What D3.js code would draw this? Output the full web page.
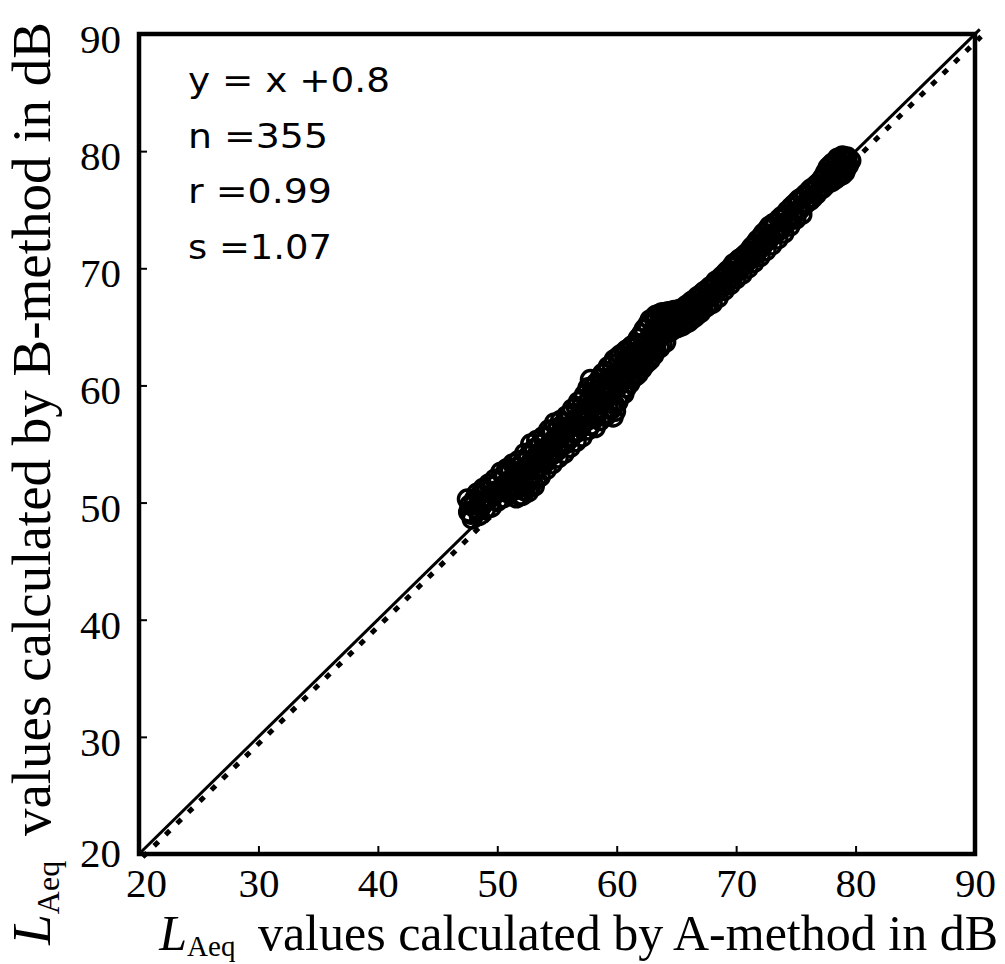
<!DOCTYPE html>
<html><head><meta charset="utf-8">
<script src="https://cdn.jsdelivr.net/npm/d3@7"></script>
<style>
html,body{margin:0;padding:0;background:#fff;}
svg{display:block;}
</style></head>
<body>
<svg id="chart" width="1005" height="964"></svg>
<script>
// ---------- data ----------
const xTicks = [20, 30, 40, 50, 60, 70, 80, 90];
const yTicks = [20, 30, 40, 50, 60, 70, 80, 90];
const statsLines = ["y = x +0.8", "n =355", "r =0.99", "s =1.07"];
const equalityLine = [[20, 20], [90.4, 90.4]];
const regressionLine = [[20.1, 19.95], [90.3, 90.0]];
const pointsA = [
[47.5,50.3],[47.6,49.2],[47.9,48.6],[48.0,49.8],
[48.3,50.8],[48.4,49.3],[48.5,48.9],
[48.8,51.2],[48.9,50.0],[49.0,49.4],
[49.3,51.6],[49.4,50.4],[49.5,49.6],
[49.8,52.0],[49.9,51.0],[50.0,50.1],
[50.3,52.6],[50.4,51.3],[50.5,50.4],
[50.8,52.9],[50.9,51.8],[51.0,50.8],
[51.3,53.3],[51.4,52.2],[51.5,51.1],[51.6,50.4],
[51.8,53.6],[51.9,52.6],[52.0,51.5],[52.1,50.6],
[52.3,54.2],[52.4,53.0],[52.5,51.8],[52.6,50.9],
[52.8,55.0],[52.9,53.6],[53.0,52.4],[53.1,51.4],
[53.3,55.3],[53.4,54.2],[53.5,53.0],[53.6,52.2],
[53.8,55.6],[53.9,54.6],[54.0,53.4],[54.1,52.8],
[54.3,56.2],[54.4,55.0],[54.5,54.0],[54.6,53.3],
[54.8,56.8],[54.9,55.6],[55.0,54.4],[55.1,53.8],
[55.3,57.0],[55.4,56.0],[55.5,55.0],[55.6,54.2],
[55.8,57.4],[55.9,56.4],[56.0,55.4],[56.1,54.7],
[56.3,58.0],[56.4,56.9],[56.5,56.0],[56.6,55.2],
[56.8,58.6],[56.9,57.4],[57.0,56.4],[57.1,55.6],
[57.3,59.2],[57.4,58.0],[57.5,57.0],[57.6,56.2],
[57.8,60.5],[57.9,59.4],[58.0,58.3],[58.1,57.2],[58.2,56.4],
[58.3,60.2],[58.4,59.0],[58.5,58.0],[58.6,57.0],
[58.8,61.0],[58.9,59.8],[59.0,58.6],[59.1,57.4],
[59.3,61.6],[59.4,60.5],[59.5,59.2],[59.6,58.0],[59.7,57.3],
[59.8,62.2],[59.9,61.0],[60.0,59.8],[60.1,58.6],
[60.3,62.6],[60.4,61.4],[60.5,60.4],[60.6,59.3],
[60.8,63.0],[60.9,62.0],[61.0,61.0],[61.1,60.2],
[61.3,63.4],[61.4,62.4],[61.5,61.5],[61.6,60.8],
[61.8,64.0],[61.9,63.0],[62.0,62.0],[62.1,61.4],
[62.3,64.8],[62.4,63.6],[62.5,62.6],[62.6,62.0],
[62.8,65.6],[62.9,64.4],[63.0,63.4],[63.1,62.6],
[63.3,66.0],[63.4,65.0],[63.5,64.0],[63.6,63.2],
[63.8,66.2],[63.9,65.4],[64.0,64.4],[64.1,63.7],
[64.3,66.3],[64.4,65.5],[64.5,64.6],
[64.8,66.4],[64.9,65.6],[65.0,64.9],
[65.3,66.5],[65.4,65.8],[65.5,65.1],
[65.8,66.8],[65.9,66.0],[66.0,65.4],
[66.3,67.2],[66.4,66.5],[66.5,65.8],
[66.8,67.6],[66.9,66.9],[67.0,66.2],
[67.3,68.0],[67.4,67.3],[67.5,66.7],
[67.8,68.4],[67.9,67.7],[68.0,67.0],
[68.3,68.9],[68.4,68.1],[68.5,67.5],
[68.8,69.3],[68.9,68.6],[69.0,68.1],
[69.3,69.8],[69.4,69.1],[69.5,68.6],
[69.8,70.4],[69.9,69.6],[70.0,69.1],
[70.3,70.8],[70.4,70.0],[70.5,69.5],
[70.8,71.2],[70.9,70.6],[71.0,70.0],
[71.3,71.8],[71.4,71.0],[71.5,70.5],
[71.8,72.4],[71.9,71.6],[72.0,71.0],
[72.3,73.0],[72.4,72.2],[72.5,71.5],
[72.8,73.6],[72.9,72.7],[73.0,72.0],
[73.3,73.9],[73.4,73.1],[73.5,72.5],
[73.8,74.4],[73.9,73.6],[74.0,73.0],
[74.3,74.9],[74.4,74.1],[74.5,73.6],
[74.8,75.4],[74.9,74.6],[75.0,74.2],
[75.3,75.9],[75.4,75.1],[75.5,74.6],
[75.8,76.3],[75.9,75.6],
[76.3,76.8],[76.4,76.0],
[76.8,77.2],[76.9,76.6],
[77.3,77.8],[77.4,77.0],
[77.7,78.6],[77.8,77.6],
[78.1,79.0],[78.2,78.2],[78.3,77.6],
[78.5,79.4],[78.6,78.6],[78.7,77.9],
[78.9,79.6],[79.0,78.8],[79.1,78.2],
[79.3,79.5],[79.4,78.8],[79.6,79.2]
];
const pointsB = [
[47.7,49.8],[47.8,49.0],[48.1,50.3],[48.2,49.5],
[48.6,50.7],[48.7,49.7],[49.1,51.0],[49.2,50.2],
[49.6,51.4],[49.7,50.6],[50.1,51.8],[50.2,51.0],
[50.6,52.4],[50.7,51.6],[50.7,50.9],
[51.1,52.8],[51.2,52.0],[51.2,51.2],
[51.6,53.0],[51.7,52.2],[51.7,51.2],[51.8,50.6],
[52.1,53.4],[52.2,52.6],[52.2,51.8],[52.3,51.0],
[52.6,54.0],[52.7,53.2],[52.7,52.2],[52.8,51.4],
[53.1,54.6],[53.2,53.8],[53.2,52.8],[53.3,52.0],
[53.6,55.0],[53.7,54.2],[53.7,53.4],
[54.1,55.6],[54.2,54.6],[54.2,53.8],
[54.6,56.2],[54.7,55.2],[54.7,54.2],
[55.1,56.4],[55.2,55.6],[55.2,54.8],
[55.6,56.8],[55.7,56.0],[55.7,55.0],
[56.1,57.6],[56.2,56.6],[56.2,55.6],
[56.6,58.2],[56.7,57.2],[56.7,56.0],
[57.1,58.8],[57.2,57.8],[57.2,56.8],
[57.6,59.8],[57.7,58.8],[57.7,57.6],[57.8,56.6],
[58.1,60.0],[58.2,59.4],[58.2,58.6],[58.3,57.6],
[58.6,60.6],[58.7,59.6],[58.7,58.4],[58.8,57.4],
[59.1,61.2],[59.2,60.2],[59.2,59.0],[59.3,58.0],
[59.6,61.8],[59.7,60.8],[59.7,59.6],[59.8,58.4],[59.9,57.8],
[60.1,62.4],[60.2,61.2],[60.2,60.2],[60.3,59.2],
[60.6,62.8],[60.7,61.8],[60.7,60.8],[60.8,59.8],
[61.1,63.2],[61.2,62.2],[61.2,61.4],[61.3,60.6],
[61.6,63.6],[61.7,62.8],[61.7,61.8],[61.8,61.0],
[62.1,64.4],[62.2,63.4],[62.2,62.4],[62.3,61.7],
[62.6,65.2],[62.7,64.0],[62.7,63.0],[62.8,62.2],
[63.1,65.8],[63.2,64.8],[63.2,63.8],[63.3,63.0],
[63.6,66.1],[63.7,65.2],[63.7,64.2],[63.8,63.5],
[64.1,66.2],[64.2,65.4],[64.2,64.5],
[64.6,66.3],[64.7,65.5],[64.7,64.8],
[65.1,66.4],[65.2,65.7],[65.2,65.0],
[65.6,66.6],[65.7,65.9],[65.7,65.3],
[66.1,67.0],[66.2,66.2],[66.2,65.6],
[66.6,67.4],[66.7,66.7],[66.7,66.0],
[67.1,67.8],[67.2,67.1],[67.2,66.5],
[67.6,68.2],[67.7,67.5],[67.7,66.9],
[68.1,68.6],[68.2,67.8],[68.6,69.1],[68.7,68.3],
[69.1,69.6],[69.2,68.8],[69.6,70.1],[69.7,69.3],
[70.1,70.6],[70.2,69.8],[70.6,71.0],[70.7,70.3],
[71.1,71.5],[71.2,70.8],[71.6,72.1],[71.7,71.3],
[72.1,72.7],[72.2,71.9],[72.6,73.3],[72.7,72.4],
[73.1,73.8],[73.2,72.9],[73.6,74.2],[73.7,73.3],
[74.1,74.6],[74.2,73.9],[74.6,75.2],[74.7,74.4],
[75.1,75.7],[75.2,74.9],[75.6,76.1],[75.7,75.4],
[76.1,76.6],[76.2,75.8],[76.6,77.0],[76.7,76.3],
[77.1,77.5],[77.2,76.8],[77.5,78.2],[77.6,77.3],
[77.9,78.8],[78.0,78.0],[78.0,77.4],
[78.4,79.2],[78.4,78.4],[78.5,77.8],
[78.8,79.4],[78.8,78.6],[78.9,78.0],
[79.2,79.2],[79.2,78.5]
];
const points = pointsA.concat(pointsB);

// ---------- layout ----------
const svg = d3.select("#chart");
const L = 139, R = 975, T = 34, B = 854;
const x = d3.scaleLinear().domain([20, 90]).range([L, R]);
const y = d3.scaleLinear().domain([20, 90]).range([B, T]);
const serif = "'Liberation Serif','Times New Roman',serif";
const sans = "'DejaVu Sans','Liberation Sans',Arial,sans-serif";

// axes
const xAxis = d3.axisBottom(x).tickValues(xTicks).tickSize(-8).tickPadding(14).tickFormat(d3.format("d"));
const yAxis = d3.axisLeft(y).tickValues(yTicks).tickSize(-8).tickPadding(18).tickFormat(d3.format("d"));

const gx = svg.append("g").attr("transform", `translate(0,${B})`).call(xAxis);
const gy = svg.append("g").attr("transform", `translate(${L},0)`).call(yAxis);
[gx, gy].forEach(g => {
  g.select(".domain").remove();
  g.selectAll(".tick line").attr("stroke", "#000").attr("stroke-width", 2);
  g.selectAll(".tick text").attr("fill", "#000").style("font-family", serif).style("font-size", "41px");
});
gx.selectAll(".tick text").filter(d => d === 20).attr("dx", 7);
gy.selectAll(".tick text").attr("dy", "0.45em");
gy.selectAll(".tick text").filter(d => d === 20).attr("dy", "0.3em");

// scatter
svg.append("g").selectAll("circle").data(points).join("circle")
  .attr("cx", d => x(d[0])).attr("cy", d => y(d[1])).attr("r", 9)
  .attr("fill", "none").attr("stroke", "#000").attr("stroke-width", 3.4);

// lines
const line = d3.line().x(d => x(d[0])).y(d => y(d[1]));
svg.append("path").datum(regressionLine).attr("d", line)
  .attr("fill", "none").attr("stroke", "#000").attr("stroke-width", 5)
  .attr("stroke-dasharray", "6,10").attr("transform", "translate(2.5,2.5)");
svg.append("path").datum(equalityLine).attr("d", line)
  .attr("fill", "none").attr("stroke", "#000").attr("stroke-width", 3);

// frame
svg.append("rect").attr("x", x(20)).attr("y", y(90))
  .attr("width", x(90) - x(20)).attr("height", y(20) - y(90))
  .attr("fill", "none").attr("stroke", "#000").attr("stroke-width", 4.5);

// stats
const statWidths = [202, 140, 144, 144];
statsLines.forEach((s, i) => svg.append("text")
  .attr("x", 188).attr("y", 92 + i * 55.5)
  .attr("textLength", statWidths[i]).attr("lengthAdjust", "spacingAndGlyphs")
  .style("font-family", sans).style("font-size", "34px").attr("fill", "#000").text(s));

// axis titles
function title(g, fs, sub, rest) {
  const t = g.append("text").style("font-family", serif).attr("fill", "#000");
  t.append("tspan").style("font-style", "italic").style("font-size", fs + "px").text("L");
  t.append("tspan").style("font-size", Math.round(fs * 0.58) + "px").attr("dy", sub).text("Aeq");
  t.append("tspan").style("font-size", fs + "px").attr("dy", -sub).text(" \u2009" + rest);
  return t;
}
const xt = title(svg.append("g"), 50, 6, "values calculated by A-method in dB");
xt.attr("text-anchor", "end").attr("x", 998).attr("y", 950);
const yg = svg.append("g").attr("transform", "translate(50,0) rotate(-90)");
const ytl = title(yg, 55, 9, "values calculated by B-method in dB");
ytl.attr("text-anchor", "end").attr("x", -22).attr("y", 0);
</script>
</body></html>
